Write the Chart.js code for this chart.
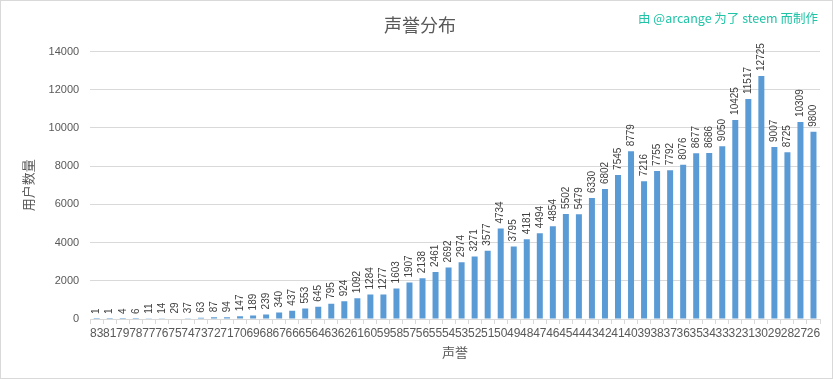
<!DOCTYPE html>
<html>
<head>
<meta charset="utf-8">
<script src="https://cdn.jsdelivr.net/npm/chart.js@4/dist/chart.umd.min.js"></script>
<style>
html,body{margin:0;padding:0;background:#fff;}
#wrap{position:absolute;left:0;top:0;width:831px;height:377px;border:1px solid #d9d9d9;}
canvas{display:block;}
</style>
</head>
<body>
<div id="wrap"><canvas id="c" width="831" height="377"></canvas></div>
<script>
const categories = ["83","81","79","78","77","76","75","74","73","72","71","70","69","68","67","66","65","64","63","62","61","60","59","58","57","56","55","54","53","52","51","50","49","48","47","46","45","44","43","42","41","40","39","38","37","36","35","34","33","32","31","30","29","28","27","26"];
const userCounts = [1,1,4,6,11,14,29,37,63,87,94,147,189,239,340,437,553,645,795,924,1092,1284,1277,1603,1907,2138,2461,2692,2974,3271,3577,4734,3795,4181,4494,4854,5502,5479,6330,6802,7545,8779,7216,7755,7792,8076,8677,8686,9050,10425,11517,12725,9007,8725,10309,9800];
const titleText = "声誉分布";
const creditText = "由 @arcange 为了 steem 而制作";
const xTitle = "声誉";
const yTitle = "用户数量";

const FONT = "'Noto Sans CJK SC', 'DejaVu Sans', sans-serif";

const labelPlugin = {
  id: 'barLabels',
  afterDatasetsDraw(chart) {
    const ctx = chart.ctx;
    const meta = chart.getDatasetMeta(0);
    ctx.save();
    ctx.fillStyle = '#404040';
    ctx.font = "10px 'Liberation Sans', sans-serif";
    ctx.textAlign = 'left';
    ctx.textBaseline = 'middle';
    meta.data.forEach((bar, i) => {
      ctx.save();
      ctx.translate(bar.x, bar.y - 5);
      ctx.rotate(-Math.PI / 2);
      ctx.fillText(String(userCounts[i]), 0, 0);
      ctx.restore();
    });
    ctx.restore();
  }
};

const creditPlugin = {
  id: 'credit',
  afterDraw(chart) {
    const ctx = chart.ctx;
    ctx.save();
    ctx.fillStyle = '#1fc4a6';
    ctx.font = "12.5px " + FONT;
    ctx.textAlign = 'right';
    ctx.textBaseline = 'middle';
    ctx.fillText(creditText, 817, 17);
    ctx.restore();
  }
};

new Chart(document.getElementById('c'), {
  type: 'bar',
  data: {
    labels: categories,
    datasets: [{
      data: userCounts,
      backgroundColor: '#5b9bd5',
      barPercentage: 0.46,
      categoryPercentage: 1.0
    }]
  },
  options: {
    responsive: false,
    animation: false,
    layout: { padding: { left: 19, right: 12, top: 0, bottom: 18 } },
    plugins: {
      legend: { display: false },
      tooltip: { enabled: false },
      title: {
        display: true,
        text: titleText,
        color: '#595959',
        font: { family: FONT, size: 18, weight: 'normal' },
        padding: { top: 13, bottom: 16 }
      }
    },
    scales: {
      x: {
        grid: { display: true, drawOnChartArea: false, offset: true, color: '#d9d9d9', tickLength: 5 },
        border: { display: true, color: '#d9d9d9' },
        ticks: { autoSkip: false, maxRotation: 0, minRotation: 0, color: '#595959', font: { family: "'Liberation Sans', sans-serif", size: 12 }, padding: 2 },
        title: { display: true, text: xTitle, color: '#595959', font: { family: FONT, size: 13 }, padding: { top: 2, bottom: 0 } }
      },
      y: {
        min: 0, max: 14000,
        grid: { color: '#d9d9d9', drawTicks: false },
        border: { display: false },
        ticks: { stepSize: 2000, color: '#595959', font: { family: "'Liberation Sans', sans-serif", size: 11 }, padding: 11, callback: v => String(v) },
        title: { display: true, text: yTitle, color: '#595959', font: { family: FONT, size: 13 }, padding: { top: 0, bottom: 2 } }
      }
    }
  },
  plugins: [labelPlugin, creditPlugin]
});
</script>
</body>
</html>
